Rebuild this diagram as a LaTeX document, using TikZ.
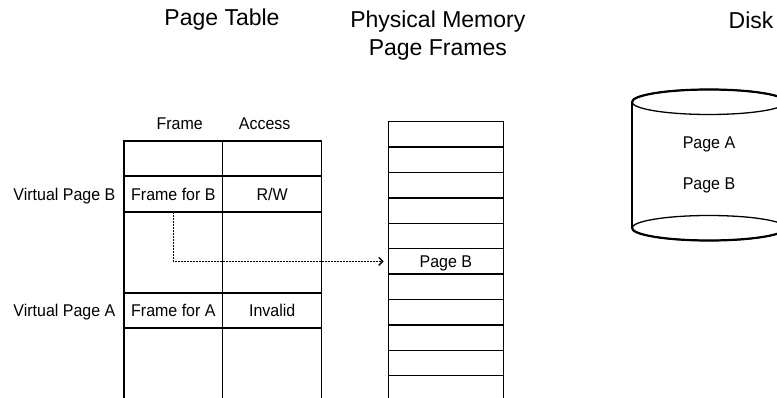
\documentclass[tikz,border=0pt]{standalone}
\usepackage{fontspec}
\setmainfont{Liberation Sans}
\newfontfamily\condf[FakeStretch=0.94]{Liberation Sans}
\usetikzlibrary{arrows.meta}
\begin{document}
\begin{tikzpicture}[x=1pt,y=-1pt, line width=1.3pt,
  title/.style={font=\fontsize{23}{28}\selectfont, align=center, inner sep=0pt},
  lbl/.style={font=\condf\fontsize{17}{20}\selectfont, inner sep=0pt, text height=12.3pt, text depth=0pt},
  cell/.style={lbl, minimum width=98.7pt, minimum height=35.5pt},
  memcell/.style={lbl, minimum width=115pt, minimum height=25.4pt},
  link/.style={dash pattern=on 1.4pt off 1.6pt, -{Straight Barb[length=4pt,width=8pt]}, shorten >=4pt}]
\useasboundingbox (0,0) rectangle (777,398);
\clip (0,0) rectangle (777,398);

% titles
\node[title] (tPT) at (222,20) {Page Table};
\node[title] (tPM) at (437.8,36) {Physical Memory\\Page Frames};
\node[title] (tD) at (751,20) {Disk};

% page table grid
\draw (124,402) -- (124,141) -- (321.7,141) -- (321.7,402);
\draw (222.7,141) -- (222.7,402);
\foreach \y in {176,212,293,328} \draw (124,\y) -- (321.7,\y);

\node[lbl] (hF) at (179.7,123.3) {Frame};
\node[lbl] (hA) at (264.7,123.3) {Access};
\node[lbl, anchor=east] (vB) at (116,194) {Virtual Page B};
\node[lbl, anchor=east] (vA) at (116,310.5) {Virtual Page A};
\node[cell] (fB) at (173.35,194) {Frame for B};
\node[cell] (aB) at (272.2,194) {R/W};
\node[cell] (fA) at (173.35,310.5) {Frame for A};
\node[cell] (aA) at (272.2,310.5) {Invalid};

% physical memory
\draw (388.3,402) -- (388.3,121.7) -- (503.3,121.7) -- (503.3,402);
\foreach \k in {1,...,10} \draw (388.3,121.7+25.4*\k) -- ++(115,0);
\node[memcell] (mB) at (445.8,261.4) {Page B};

% mapping
\draw[link] (fB.south) |- (mB.west);

% disk
\draw (632,102) -- (632,228);
\draw (709,102) ellipse [x radius=77, y radius=12.5];
\draw (709,228) ellipse [x radius=77, y radius=12.5];
\draw[line width=2.2pt] (632,102) arc[start angle=180, end angle=360, x radius=77, y radius=12.5];
\draw[line width=2.2pt] (632,228) arc[start angle=180, end angle=0, x radius=77, y radius=12.5];
\node[lbl] (dA) at (709,142) {Page A};
\node[lbl] (dB) at (709,183) {Page B};
\end{tikzpicture}
\end{document}
